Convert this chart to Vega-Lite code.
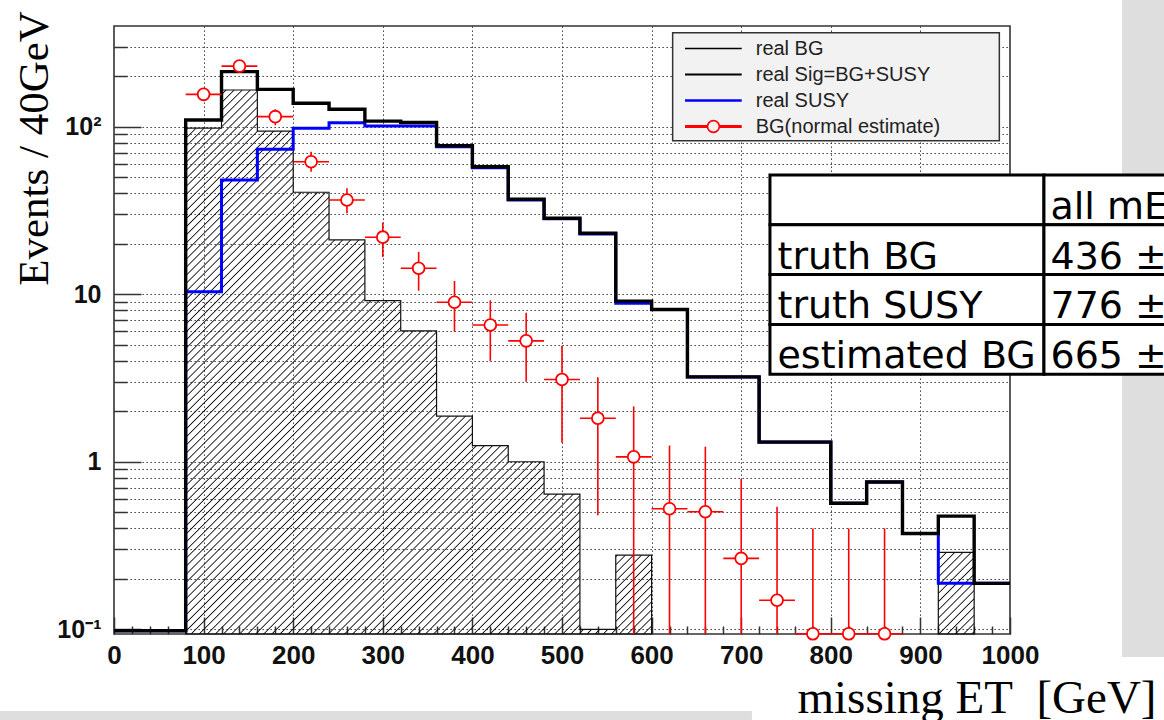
{
  "$schema": "https://vega.github.io/schema/vega-lite/v6.json",
  "width": 896,
  "height": 608,
  "autosize": {"type": "none"},
  "padding": {"left": 114, "top": 26, "right": 154, "bottom": 86},
  "background": "#ffffff",
  "config": {
    "view": {"stroke": "#333333", "strokeWidth": 1.6},
    "font": "Liberation Sans"
  },
  "datasets": {
    "bins": [
      {"lo": 0, "hi": 40, "mid": 20, "total": 0.098, "susy": 0.098, "bg": 0.09375, "est": null, "elo": null, "ehi": null},
      {"lo": 40, "hi": 80, "mid": 60, "total": 0.098, "susy": 0.098, "bg": 0.09375, "est": null, "elo": null, "ehi": null},
      {"lo": 80, "hi": 120, "mid": 100, "total": 109.6, "susy": 10.35, "bg": 98, "est": 156, "elo": 144, "ehi": 168},
      {"lo": 120, "hi": 160, "mid": 140, "total": 213, "susy": 48.1, "bg": 165.6, "est": 230, "elo": 217, "ehi": 244},
      {"lo": 160, "hi": 200, "mid": 180, "total": 167, "susy": 73.3, "bg": 94.2, "est": 114.8, "elo": 102, "ehi": 127},
      {"lo": 200, "hi": 240, "mid": 220, "total": 138, "susy": 97.8, "bg": 40.6, "est": 61.8, "elo": 53.9, "ehi": 70.9},
      {"lo": 240, "hi": 280, "mid": 260, "total": 127, "susy": 105.7, "bg": 21.1, "est": 36.5, "elo": 30.4, "ehi": 42.9},
      {"lo": 280, "hi": 320, "mid": 300, "total": 108, "susy": 100.9, "bg": 9.15, "est": 21.9, "elo": 16.7, "ehi": 26.8},
      {"lo": 320, "hi": 360, "mid": 340, "total": 106, "susy": 101, "bg": 6.05, "est": 14.3, "elo": 10.5, "ehi": 17.9},
      {"lo": 360, "hi": 400, "mid": 380, "total": 77, "susy": 76, "bg": 1.87, "est": 8.95, "elo": 5.97, "ehi": 12.0},
      {"lo": 400, "hi": 440, "mid": 420, "total": 57.7, "susy": 56.9, "bg": 1.25, "est": 6.55, "elo": 4.0, "ehi": 9.2},
      {"lo": 440, "hi": 480, "mid": 460, "total": 36.9, "susy": 36.5, "bg": 1.0, "est": 5.27, "elo": 3.0, "ehi": 7.75},
      {"lo": 480, "hi": 520, "mid": 500, "total": 28.4, "susy": 28.2, "bg": 0.641, "est": 3.1, "elo": 1.3, "ehi": 4.93},
      {"lo": 520, "hi": 560, "mid": 540, "total": 23.1, "susy": 22.9, "bg": 0.1, "est": 1.82, "elo": 0.48, "ehi": 3.19},
      {"lo": 560, "hi": 600, "mid": 580, "total": 9.1, "susy": 8.82, "bg": 0.277, "est": 1.07, "elo": 0.09375, "ehi": 2.14},
      {"lo": 600, "hi": 640, "mid": 620, "total": 8.1, "susy": 8.1, "bg": 0.09375, "est": 0.524, "elo": 0.09375, "ehi": 1.25},
      {"lo": 640, "hi": 680, "mid": 660, "total": 3.21, "susy": 3.21, "bg": 0.09375, "est": 0.503, "elo": 0.09375, "ehi": 1.23},
      {"lo": 680, "hi": 720, "mid": 700, "total": 3.21, "susy": 3.21, "bg": 0.09375, "est": 0.265, "elo": 0.09375, "ehi": 0.79},
      {"lo": 720, "hi": 760, "mid": 740, "total": 1.31, "susy": 1.31, "bg": 0.09375, "est": 0.149, "elo": 0.09375, "ehi": 0.539},
      {"lo": 760, "hi": 800, "mid": 780, "total": 1.31, "susy": 1.31, "bg": 0.09375, "est": 0.094, "elo": 0.094, "ehi": 0.40},
      {"lo": 800, "hi": 840, "mid": 820, "total": 0.565, "susy": 0.565, "bg": 0.09375, "est": 0.094, "elo": 0.094, "ehi": 0.40},
      {"lo": 840, "hi": 880, "mid": 860, "total": 0.757, "susy": 0.757, "bg": 0.09375, "est": 0.094, "elo": 0.094, "ehi": 0.40},
      {"lo": 880, "hi": 920, "mid": 900, "total": 0.373, "susy": 0.373, "bg": 0.09375, "est": null, "elo": null, "ehi": null},
      {"lo": 920, "hi": 960, "mid": 940, "total": 0.474, "susy": 0.188, "bg": 0.288, "est": null, "elo": null, "ehi": null},
      {"lo": 960, "hi": 1000, "mid": 980, "total": 0.188, "susy": 0.188, "bg": 0.09375, "est": null, "elo": null, "ehi": null}
    ],
    "legend": [
      {"label": "real BG"},
      {"label": "real Sig=BG+SUSY"},
      {"label": "real SUSY"},
      {"label": "BG(normal estimate)"}
    ],
    "table": [
      {"row": "hdr", "name": "", "val": "all mE"},
      {"row": "truth BG", "name": "truth BG", "val": "436 ±"},
      {"row": "truth SUSY", "name": "truth SUSY", "val": "776 ±"},
      {"row": "estimated BG", "name": "estimated BG", "val": "665 ±"}
    ]
  },
  "layer": [
    {
      "data": {"name": "bins"},
      "layer": [
        {
          "data": {"values": [{}]},
          "mark": {"type": "rect", "fill": "#dedede"},
          "encoding": {
            "x": {"datum": 1125, "type": "quantitative"},
            "x2": {"datum": 1400},
            "y": {"datum": 100000, "type": "quantitative"},
            "y2": {"datum": 0.0683}
          }
        },
        {
          "data": {"values": [{}]},
          "mark": {"type": "rect", "fill": "#dedede"},
          "encoding": {
            "x": {"datum": -300, "type": "quantitative"},
            "x2": {"datum": 712},
            "y": {"datum": 0.03253, "type": "quantitative"},
            "y2": {"datum": 0.0001}
          }
        },
        {
          "transform": [
            {"filter": "datum.lo >= 80 && datum.lo < 600"},
            {"fold": ["lo", "hi"], "as": ["edge", "x"]}
          ],
          "mark": {
            "type": "area",
            "opacity": 1,
            "stroke": "#111111",
            "strokeWidth": 1.2,
            "fill": {
              "gradient": "linear", "x1": 0, "y1": 0, "x2": 0.9172, "y2": 1.071,
              "stops": [
{"offset":0,"color":"#111"},{"offset":0.0012,"color":"rgba(0,0,0,0)"},{"offset":0.0068,"color":"rgba(0,0,0,0)"},
{"offset":0.008,"color":"#111"},{"offset":0.0092,"color":"rgba(0,0,0,0)"},{"offset":0.0148,"color":"rgba(0,0,0,0)"},
{"offset":0.016,"color":"#111"},{"offset":0.0172,"color":"rgba(0,0,0,0)"},{"offset":0.0228,"color":"rgba(0,0,0,0)"},
{"offset":0.024,"color":"#111"},{"offset":0.0252,"color":"rgba(0,0,0,0)"},{"offset":0.0308,"color":"rgba(0,0,0,0)"},
{"offset":0.032,"color":"#111"},{"offset":0.0332,"color":"rgba(0,0,0,0)"},{"offset":0.0388,"color":"rgba(0,0,0,0)"},
{"offset":0.04,"color":"#111"},{"offset":0.0412,"color":"rgba(0,0,0,0)"},{"offset":0.0468,"color":"rgba(0,0,0,0)"},
{"offset":0.048,"color":"#111"},{"offset":0.0492,"color":"rgba(0,0,0,0)"},{"offset":0.0548,"color":"rgba(0,0,0,0)"},
{"offset":0.056,"color":"#111"},{"offset":0.0572,"color":"rgba(0,0,0,0)"},{"offset":0.0628,"color":"rgba(0,0,0,0)"},
{"offset":0.064,"color":"#111"},{"offset":0.0652,"color":"rgba(0,0,0,0)"},{"offset":0.0708,"color":"rgba(0,0,0,0)"},
{"offset":0.072,"color":"#111"},{"offset":0.0732,"color":"rgba(0,0,0,0)"},{"offset":0.0788,"color":"rgba(0,0,0,0)"},
{"offset":0.08,"color":"#111"},{"offset":0.0812,"color":"rgba(0,0,0,0)"},{"offset":0.0868,"color":"rgba(0,0,0,0)"},
{"offset":0.088,"color":"#111"},{"offset":0.0892,"color":"rgba(0,0,0,0)"},{"offset":0.0948,"color":"rgba(0,0,0,0)"},
{"offset":0.096,"color":"#111"},{"offset":0.0972,"color":"rgba(0,0,0,0)"},{"offset":0.1028,"color":"rgba(0,0,0,0)"},
{"offset":0.104,"color":"#111"},{"offset":0.1052,"color":"rgba(0,0,0,0)"},{"offset":0.1108,"color":"rgba(0,0,0,0)"},
{"offset":0.112,"color":"#111"},{"offset":0.1132,"color":"rgba(0,0,0,0)"},{"offset":0.1188,"color":"rgba(0,0,0,0)"},
{"offset":0.12,"color":"#111"},{"offset":0.1212,"color":"rgba(0,0,0,0)"},{"offset":0.1268,"color":"rgba(0,0,0,0)"},
{"offset":0.128,"color":"#111"},{"offset":0.1292,"color":"rgba(0,0,0,0)"},{"offset":0.1348,"color":"rgba(0,0,0,0)"},
{"offset":0.136,"color":"#111"},{"offset":0.1372,"color":"rgba(0,0,0,0)"},{"offset":0.1428,"color":"rgba(0,0,0,0)"},
{"offset":0.144,"color":"#111"},{"offset":0.1452,"color":"rgba(0,0,0,0)"},{"offset":0.1508,"color":"rgba(0,0,0,0)"},
{"offset":0.152,"color":"#111"},{"offset":0.1532,"color":"rgba(0,0,0,0)"},{"offset":0.1588,"color":"rgba(0,0,0,0)"},
{"offset":0.16,"color":"#111"},{"offset":0.1612,"color":"rgba(0,0,0,0)"},{"offset":0.1668,"color":"rgba(0,0,0,0)"},
{"offset":0.168,"color":"#111"},{"offset":0.1692,"color":"rgba(0,0,0,0)"},{"offset":0.1748,"color":"rgba(0,0,0,0)"},
{"offset":0.176,"color":"#111"},{"offset":0.1772,"color":"rgba(0,0,0,0)"},{"offset":0.1828,"color":"rgba(0,0,0,0)"},
{"offset":0.184,"color":"#111"},{"offset":0.1852,"color":"rgba(0,0,0,0)"},{"offset":0.1908,"color":"rgba(0,0,0,0)"},
{"offset":0.192,"color":"#111"},{"offset":0.1932,"color":"rgba(0,0,0,0)"},{"offset":0.1988,"color":"rgba(0,0,0,0)"},
{"offset":0.2,"color":"#111"},{"offset":0.2012,"color":"rgba(0,0,0,0)"},{"offset":0.2068,"color":"rgba(0,0,0,0)"},
{"offset":0.208,"color":"#111"},{"offset":0.2092,"color":"rgba(0,0,0,0)"},{"offset":0.2148,"color":"rgba(0,0,0,0)"},
{"offset":0.216,"color":"#111"},{"offset":0.2172,"color":"rgba(0,0,0,0)"},{"offset":0.2228,"color":"rgba(0,0,0,0)"},
{"offset":0.224,"color":"#111"},{"offset":0.2252,"color":"rgba(0,0,0,0)"},{"offset":0.2308,"color":"rgba(0,0,0,0)"},
{"offset":0.232,"color":"#111"},{"offset":0.2332,"color":"rgba(0,0,0,0)"},{"offset":0.2388,"color":"rgba(0,0,0,0)"},
{"offset":0.24,"color":"#111"},{"offset":0.2412,"color":"rgba(0,0,0,0)"},{"offset":0.2468,"color":"rgba(0,0,0,0)"},
{"offset":0.248,"color":"#111"},{"offset":0.2492,"color":"rgba(0,0,0,0)"},{"offset":0.2548,"color":"rgba(0,0,0,0)"},
{"offset":0.256,"color":"#111"},{"offset":0.2572,"color":"rgba(0,0,0,0)"},{"offset":0.2628,"color":"rgba(0,0,0,0)"},
{"offset":0.264,"color":"#111"},{"offset":0.2652,"color":"rgba(0,0,0,0)"},{"offset":0.2708,"color":"rgba(0,0,0,0)"},
{"offset":0.272,"color":"#111"},{"offset":0.2732,"color":"rgba(0,0,0,0)"},{"offset":0.2788,"color":"rgba(0,0,0,0)"},
{"offset":0.28,"color":"#111"},{"offset":0.2812,"color":"rgba(0,0,0,0)"},{"offset":0.2868,"color":"rgba(0,0,0,0)"},
{"offset":0.288,"color":"#111"},{"offset":0.2892,"color":"rgba(0,0,0,0)"},{"offset":0.2948,"color":"rgba(0,0,0,0)"},
{"offset":0.296,"color":"#111"},{"offset":0.2972,"color":"rgba(0,0,0,0)"},{"offset":0.3028,"color":"rgba(0,0,0,0)"},
{"offset":0.304,"color":"#111"},{"offset":0.3052,"color":"rgba(0,0,0,0)"},{"offset":0.3108,"color":"rgba(0,0,0,0)"},
{"offset":0.312,"color":"#111"},{"offset":0.3132,"color":"rgba(0,0,0,0)"},{"offset":0.3188,"color":"rgba(0,0,0,0)"},
{"offset":0.32,"color":"#111"},{"offset":0.3212,"color":"rgba(0,0,0,0)"},{"offset":0.3268,"color":"rgba(0,0,0,0)"},
{"offset":0.328,"color":"#111"},{"offset":0.3292,"color":"rgba(0,0,0,0)"},{"offset":0.3348,"color":"rgba(0,0,0,0)"},
{"offset":0.336,"color":"#111"},{"offset":0.3372,"color":"rgba(0,0,0,0)"},{"offset":0.3428,"color":"rgba(0,0,0,0)"},
{"offset":0.344,"color":"#111"},{"offset":0.3452,"color":"rgba(0,0,0,0)"},{"offset":0.3508,"color":"rgba(0,0,0,0)"},
{"offset":0.352,"color":"#111"},{"offset":0.3532,"color":"rgba(0,0,0,0)"},{"offset":0.3588,"color":"rgba(0,0,0,0)"},
{"offset":0.36,"color":"#111"},{"offset":0.3612,"color":"rgba(0,0,0,0)"},{"offset":0.3668,"color":"rgba(0,0,0,0)"},
{"offset":0.368,"color":"#111"},{"offset":0.3692,"color":"rgba(0,0,0,0)"},{"offset":0.3748,"color":"rgba(0,0,0,0)"},
{"offset":0.376,"color":"#111"},{"offset":0.3772,"color":"rgba(0,0,0,0)"},{"offset":0.3828,"color":"rgba(0,0,0,0)"},
{"offset":0.384,"color":"#111"},{"offset":0.3852,"color":"rgba(0,0,0,0)"},{"offset":0.3908,"color":"rgba(0,0,0,0)"},
{"offset":0.392,"color":"#111"},{"offset":0.3932,"color":"rgba(0,0,0,0)"},{"offset":0.3988,"color":"rgba(0,0,0,0)"},
{"offset":0.4,"color":"#111"},{"offset":0.4012,"color":"rgba(0,0,0,0)"},{"offset":0.4068,"color":"rgba(0,0,0,0)"},
{"offset":0.408,"color":"#111"},{"offset":0.4092,"color":"rgba(0,0,0,0)"},{"offset":0.4148,"color":"rgba(0,0,0,0)"},
{"offset":0.416,"color":"#111"},{"offset":0.4172,"color":"rgba(0,0,0,0)"},{"offset":0.4228,"color":"rgba(0,0,0,0)"},
{"offset":0.424,"color":"#111"},{"offset":0.4252,"color":"rgba(0,0,0,0)"},{"offset":0.4308,"color":"rgba(0,0,0,0)"},
{"offset":0.432,"color":"#111"},{"offset":0.4332,"color":"rgba(0,0,0,0)"},{"offset":0.4388,"color":"rgba(0,0,0,0)"},
{"offset":0.44,"color":"#111"},{"offset":0.4412,"color":"rgba(0,0,0,0)"},{"offset":0.4468,"color":"rgba(0,0,0,0)"},
{"offset":0.448,"color":"#111"},{"offset":0.4492,"color":"rgba(0,0,0,0)"},{"offset":0.4548,"color":"rgba(0,0,0,0)"},
{"offset":0.456,"color":"#111"},{"offset":0.4572,"color":"rgba(0,0,0,0)"},{"offset":0.4628,"color":"rgba(0,0,0,0)"},
{"offset":0.464,"color":"#111"},{"offset":0.4652,"color":"rgba(0,0,0,0)"},{"offset":0.4708,"color":"rgba(0,0,0,0)"},
{"offset":0.472,"color":"#111"},{"offset":0.4732,"color":"rgba(0,0,0,0)"},{"offset":0.4788,"color":"rgba(0,0,0,0)"},
{"offset":0.48,"color":"#111"},{"offset":0.4812,"color":"rgba(0,0,0,0)"},{"offset":0.4868,"color":"rgba(0,0,0,0)"},
{"offset":0.488,"color":"#111"},{"offset":0.4892,"color":"rgba(0,0,0,0)"},{"offset":0.4948,"color":"rgba(0,0,0,0)"},
{"offset":0.496,"color":"#111"},{"offset":0.4972,"color":"rgba(0,0,0,0)"},{"offset":0.5028,"color":"rgba(0,0,0,0)"},
{"offset":0.504,"color":"#111"},{"offset":0.5052,"color":"rgba(0,0,0,0)"},{"offset":0.5108,"color":"rgba(0,0,0,0)"},
{"offset":0.512,"color":"#111"},{"offset":0.5132,"color":"rgba(0,0,0,0)"},{"offset":0.5188,"color":"rgba(0,0,0,0)"},
{"offset":0.52,"color":"#111"},{"offset":0.5212,"color":"rgba(0,0,0,0)"},{"offset":0.5268,"color":"rgba(0,0,0,0)"},
{"offset":0.528,"color":"#111"},{"offset":0.5292,"color":"rgba(0,0,0,0)"},{"offset":0.5348,"color":"rgba(0,0,0,0)"},
{"offset":0.536,"color":"#111"},{"offset":0.5372,"color":"rgba(0,0,0,0)"},{"offset":0.5428,"color":"rgba(0,0,0,0)"},
{"offset":0.544,"color":"#111"},{"offset":0.5452,"color":"rgba(0,0,0,0)"},{"offset":0.5508,"color":"rgba(0,0,0,0)"},
{"offset":0.552,"color":"#111"},{"offset":0.5532,"color":"rgba(0,0,0,0)"},{"offset":0.5588,"color":"rgba(0,0,0,0)"},
{"offset":0.56,"color":"#111"},{"offset":0.5612,"color":"rgba(0,0,0,0)"},{"offset":0.5668,"color":"rgba(0,0,0,0)"},
{"offset":0.568,"color":"#111"},{"offset":0.5692,"color":"rgba(0,0,0,0)"},{"offset":0.5748,"color":"rgba(0,0,0,0)"},
{"offset":0.576,"color":"#111"},{"offset":0.5772,"color":"rgba(0,0,0,0)"},{"offset":0.5828,"color":"rgba(0,0,0,0)"},
{"offset":0.584,"color":"#111"},{"offset":0.5852,"color":"rgba(0,0,0,0)"},{"offset":0.5908,"color":"rgba(0,0,0,0)"},
{"offset":0.592,"color":"#111"},{"offset":0.5932,"color":"rgba(0,0,0,0)"},{"offset":0.5988,"color":"rgba(0,0,0,0)"},
{"offset":0.6,"color":"#111"},{"offset":0.6012,"color":"rgba(0,0,0,0)"},{"offset":0.6068,"color":"rgba(0,0,0,0)"},
{"offset":0.608,"color":"#111"},{"offset":0.6092,"color":"rgba(0,0,0,0)"},{"offset":0.6148,"color":"rgba(0,0,0,0)"},
{"offset":0.616,"color":"#111"},{"offset":0.6172,"color":"rgba(0,0,0,0)"},{"offset":0.6228,"color":"rgba(0,0,0,0)"},
{"offset":0.624,"color":"#111"},{"offset":0.6252,"color":"rgba(0,0,0,0)"},{"offset":0.6308,"color":"rgba(0,0,0,0)"},
{"offset":0.632,"color":"#111"},{"offset":0.6332,"color":"rgba(0,0,0,0)"},{"offset":0.6388,"color":"rgba(0,0,0,0)"},
{"offset":0.64,"color":"#111"},{"offset":0.6412,"color":"rgba(0,0,0,0)"},{"offset":0.6468,"color":"rgba(0,0,0,0)"},
{"offset":0.648,"color":"#111"},{"offset":0.6492,"color":"rgba(0,0,0,0)"},{"offset":0.6548,"color":"rgba(0,0,0,0)"},
{"offset":0.656,"color":"#111"},{"offset":0.6572,"color":"rgba(0,0,0,0)"},{"offset":0.6628,"color":"rgba(0,0,0,0)"},
{"offset":0.664,"color":"#111"},{"offset":0.6652,"color":"rgba(0,0,0,0)"},{"offset":0.6708,"color":"rgba(0,0,0,0)"},
{"offset":0.672,"color":"#111"},{"offset":0.6732,"color":"rgba(0,0,0,0)"},{"offset":0.6788,"color":"rgba(0,0,0,0)"},
{"offset":0.68,"color":"#111"},{"offset":0.6812,"color":"rgba(0,0,0,0)"},{"offset":0.6868,"color":"rgba(0,0,0,0)"},
{"offset":0.688,"color":"#111"},{"offset":0.6892,"color":"rgba(0,0,0,0)"},{"offset":0.6948,"color":"rgba(0,0,0,0)"},
{"offset":0.696,"color":"#111"},{"offset":0.6972,"color":"rgba(0,0,0,0)"},{"offset":0.7028,"color":"rgba(0,0,0,0)"},
{"offset":0.704,"color":"#111"},{"offset":0.7052,"color":"rgba(0,0,0,0)"},{"offset":0.7108,"color":"rgba(0,0,0,0)"},
{"offset":0.712,"color":"#111"},{"offset":0.7132,"color":"rgba(0,0,0,0)"},{"offset":0.7188,"color":"rgba(0,0,0,0)"},
{"offset":0.72,"color":"#111"},{"offset":0.7212,"color":"rgba(0,0,0,0)"},{"offset":0.7268,"color":"rgba(0,0,0,0)"},
{"offset":0.728,"color":"#111"},{"offset":0.7292,"color":"rgba(0,0,0,0)"},{"offset":0.7348,"color":"rgba(0,0,0,0)"},
{"offset":0.736,"color":"#111"},{"offset":0.7372,"color":"rgba(0,0,0,0)"},{"offset":0.7428,"color":"rgba(0,0,0,0)"},
{"offset":0.744,"color":"#111"},{"offset":0.7452,"color":"rgba(0,0,0,0)"},{"offset":0.7508,"color":"rgba(0,0,0,0)"},
{"offset":0.752,"color":"#111"},{"offset":0.7532,"color":"rgba(0,0,0,0)"},{"offset":0.7588,"color":"rgba(0,0,0,0)"},
{"offset":0.76,"color":"#111"},{"offset":0.7612,"color":"rgba(0,0,0,0)"},{"offset":0.7668,"color":"rgba(0,0,0,0)"},
{"offset":0.768,"color":"#111"},{"offset":0.7692,"color":"rgba(0,0,0,0)"},{"offset":0.7748,"color":"rgba(0,0,0,0)"},
{"offset":0.776,"color":"#111"},{"offset":0.7772,"color":"rgba(0,0,0,0)"},{"offset":0.7828,"color":"rgba(0,0,0,0)"},
{"offset":0.784,"color":"#111"},{"offset":0.7852,"color":"rgba(0,0,0,0)"},{"offset":0.7908,"color":"rgba(0,0,0,0)"},
{"offset":0.792,"color":"#111"},{"offset":0.7932,"color":"rgba(0,0,0,0)"},{"offset":0.7988,"color":"rgba(0,0,0,0)"},
{"offset":0.8,"color":"#111"},{"offset":0.8012,"color":"rgba(0,0,0,0)"},{"offset":0.8068,"color":"rgba(0,0,0,0)"},
{"offset":0.808,"color":"#111"},{"offset":0.8092,"color":"rgba(0,0,0,0)"},{"offset":0.8148,"color":"rgba(0,0,0,0)"},
{"offset":0.816,"color":"#111"},{"offset":0.8172,"color":"rgba(0,0,0,0)"},{"offset":0.8228,"color":"rgba(0,0,0,0)"},
{"offset":0.824,"color":"#111"},{"offset":0.8252,"color":"rgba(0,0,0,0)"},{"offset":0.8308,"color":"rgba(0,0,0,0)"},
{"offset":0.832,"color":"#111"},{"offset":0.8332,"color":"rgba(0,0,0,0)"},{"offset":0.8388,"color":"rgba(0,0,0,0)"},
{"offset":0.84,"color":"#111"},{"offset":0.8412,"color":"rgba(0,0,0,0)"},{"offset":0.8468,"color":"rgba(0,0,0,0)"},
{"offset":0.848,"color":"#111"},{"offset":0.8492,"color":"rgba(0,0,0,0)"},{"offset":0.8548,"color":"rgba(0,0,0,0)"},
{"offset":0.856,"color":"#111"},{"offset":0.8572,"color":"rgba(0,0,0,0)"},{"offset":0.8628,"color":"rgba(0,0,0,0)"},
{"offset":0.864,"color":"#111"},{"offset":0.8652,"color":"rgba(0,0,0,0)"},{"offset":0.8708,"color":"rgba(0,0,0,0)"},
{"offset":0.872,"color":"#111"},{"offset":0.8732,"color":"rgba(0,0,0,0)"},{"offset":0.8788,"color":"rgba(0,0,0,0)"},
{"offset":0.88,"color":"#111"},{"offset":0.8812,"color":"rgba(0,0,0,0)"},{"offset":0.8868,"color":"rgba(0,0,0,0)"},
{"offset":0.888,"color":"#111"},{"offset":0.8892,"color":"rgba(0,0,0,0)"},{"offset":0.8948,"color":"rgba(0,0,0,0)"},
{"offset":0.896,"color":"#111"},{"offset":0.8972,"color":"rgba(0,0,0,0)"},{"offset":0.9028,"color":"rgba(0,0,0,0)"},
{"offset":0.904,"color":"#111"},{"offset":0.9052,"color":"rgba(0,0,0,0)"},{"offset":0.9108,"color":"rgba(0,0,0,0)"},
{"offset":0.912,"color":"#111"},{"offset":0.9132,"color":"rgba(0,0,0,0)"},{"offset":0.9188,"color":"rgba(0,0,0,0)"},
{"offset":0.92,"color":"#111"},{"offset":0.9212,"color":"rgba(0,0,0,0)"},{"offset":0.9268,"color":"rgba(0,0,0,0)"},
{"offset":0.928,"color":"#111"},{"offset":0.9292,"color":"rgba(0,0,0,0)"},{"offset":0.9348,"color":"rgba(0,0,0,0)"},
{"offset":0.936,"color":"#111"},{"offset":0.9372,"color":"rgba(0,0,0,0)"},{"offset":0.9428,"color":"rgba(0,0,0,0)"},
{"offset":0.944,"color":"#111"},{"offset":0.9452,"color":"rgba(0,0,0,0)"},{"offset":0.9508,"color":"rgba(0,0,0,0)"},
{"offset":0.952,"color":"#111"},{"offset":0.9532,"color":"rgba(0,0,0,0)"},{"offset":0.9588,"color":"rgba(0,0,0,0)"},
{"offset":0.96,"color":"#111"},{"offset":0.9612,"color":"rgba(0,0,0,0)"},{"offset":0.9668,"color":"rgba(0,0,0,0)"},
{"offset":0.968,"color":"#111"},{"offset":0.9692,"color":"rgba(0,0,0,0)"},{"offset":0.9748,"color":"rgba(0,0,0,0)"},
{"offset":0.976,"color":"#111"},{"offset":0.9772,"color":"rgba(0,0,0,0)"},{"offset":0.9828,"color":"rgba(0,0,0,0)"},
{"offset":0.984,"color":"#111"},{"offset":0.9852,"color":"rgba(0,0,0,0)"},{"offset":0.9908,"color":"rgba(0,0,0,0)"},
{"offset":0.992,"color":"#111"},{"offset":0.9932,"color":"rgba(0,0,0,0)"},{"offset":0.9988,"color":"rgba(0,0,0,0)"},
{"offset":1,"color":"#111"}
              ]
            }
          },
          "encoding": {
            "x": {"field": "x", "type": "quantitative"},
            "y": {"field": "bg", "type": "quantitative", "stack": null},
            "y2": {"datum": 0.09375},
            "order": {"value": null}
          }
        },
        {
          "transform": [
            {"filter": "datum.lo === 920"},
            {"fold": ["lo", "hi"], "as": ["edge", "x"]}
          ],
          "mark": {
            "type": "area",
            "opacity": 1,
            "stroke": "#111111",
            "strokeWidth": 1.2,
            "fill": {
              "gradient": "linear", "x1": 0, "y1": 0, "x2": 0.5293, "y2": 1.2065,
              "stops": [
{"offset":0,"color":"#111"},{"offset":0.0105,"color":"rgba(0,0,0,0)"},{"offset":0.0595,"color":"rgba(0,0,0,0)"},
{"offset":0.07,"color":"#111"},{"offset":0.0805,"color":"rgba(0,0,0,0)"},{"offset":0.1295,"color":"rgba(0,0,0,0)"},
{"offset":0.14,"color":"#111"},{"offset":0.1505,"color":"rgba(0,0,0,0)"},{"offset":0.1995,"color":"rgba(0,0,0,0)"},
{"offset":0.21,"color":"#111"},{"offset":0.2205,"color":"rgba(0,0,0,0)"},{"offset":0.2695,"color":"rgba(0,0,0,0)"},
{"offset":0.28,"color":"#111"},{"offset":0.2905,"color":"rgba(0,0,0,0)"},{"offset":0.3395,"color":"rgba(0,0,0,0)"},
{"offset":0.35,"color":"#111"},{"offset":0.3605,"color":"rgba(0,0,0,0)"},{"offset":0.4095,"color":"rgba(0,0,0,0)"},
{"offset":0.42,"color":"#111"},{"offset":0.4305,"color":"rgba(0,0,0,0)"},{"offset":0.4795,"color":"rgba(0,0,0,0)"},
{"offset":0.49,"color":"#111"},{"offset":0.5005,"color":"rgba(0,0,0,0)"},{"offset":0.5495,"color":"rgba(0,0,0,0)"},
{"offset":0.56,"color":"#111"},{"offset":0.5705,"color":"rgba(0,0,0,0)"},{"offset":0.6195,"color":"rgba(0,0,0,0)"},
{"offset":0.63,"color":"#111"},{"offset":0.6405,"color":"rgba(0,0,0,0)"},{"offset":0.6895,"color":"rgba(0,0,0,0)"},
{"offset":0.7,"color":"#111"},{"offset":0.7105,"color":"rgba(0,0,0,0)"},{"offset":0.7595,"color":"rgba(0,0,0,0)"},
{"offset":0.77,"color":"#111"},{"offset":0.7805,"color":"rgba(0,0,0,0)"},{"offset":0.8295,"color":"rgba(0,0,0,0)"},
{"offset":0.84,"color":"#111"},{"offset":0.8505,"color":"rgba(0,0,0,0)"},{"offset":0.8995,"color":"rgba(0,0,0,0)"},
{"offset":0.91,"color":"#111"},{"offset":0.9205,"color":"rgba(0,0,0,0)"},{"offset":0.9695,"color":"rgba(0,0,0,0)"},
{"offset":0.98,"color":"#111"},{"offset":0.9905,"color":"rgba(0,0,0,0)"}
              ]
            }
          },
          "encoding": {
            "x": {"field": "x", "type": "quantitative"},
            "y": {"field": "bg", "type": "quantitative", "stack": null},
            "y2": {"datum": 0.09375},
            "order": {"value": null}
          }
        },
        {
          "transform": [{"fold": ["lo", "hi"], "as": ["edge", "x"]}],
          "mark": {"type": "line", "color": "#0000ff", "strokeWidth": 3, "strokeJoin": "miter"},
          "encoding": {
            "x": {"field": "x", "type": "quantitative"},
            "y": {"field": "susy", "type": "quantitative"},
            "order": {"value": null}
          }
        },
        {
          "transform": [{"fold": ["lo", "hi"], "as": ["edge", "x"]}],
          "mark": {"type": "line", "color": "#000000", "strokeWidth": 3.4, "strokeJoin": "miter"},
          "encoding": {
            "x": {
              "field": "x", "type": "quantitative",
              "scale": {"domain": [0, 1000], "nice": false, "zero": false},
              "axis": {
                "title": "missing ET\u00a0\u00a0[GeV]",
                "values": [0,20,40,60,80,100,120,140,160,180,200,220,240,260,280,300,320,340,360,380,400,420,440,460,480,500,520,540,560,580,600,620,640,660,680,700,720,740,760,780,800,820,840,860,880,900,920,940,960,980,1000],
                "tickCount": 1000,
                "format": "d",
                "grid": true,
                "gridDash": [1.3, 2.7],
                "gridColor": "#222222",
                "gridWidth": 1,
                "gridOpacity": {"condition": {"test": "datum.value % 100 === 0 && datum.value > 0 && datum.value < 1000", "value": 1}, "value": 0},
                "domain": false,
                "tickColor": "#333333",
                "tickWidth": 1.5,
                "tickSize": {"condition": {"test": "datum.value % 100 === 0", "value": -17}, "value": -8},
                "labelExpr": "datum.value % 100 === 0 ? datum.label : ''",
                "labelFont": "Liberation Sans",
                "labelFontWeight": "bold",
                "labelFontSize": 26,
                "labelColor": "#111111",
                "labelBaseline": "alphabetic",
                "labelPadding": 46,
                "labelOverlap": false,
                "labelFlush": false,
                "labelBound": false,
                "titleFont": "Liberation Serif",
                "titleFontSize": 47,
                "titleFontWeight": "normal",
                "titleColor": "#000000",
                "titleX": 683,
                "titleY": 78,
                "titleAlign": "left",
                "titleBaseline": "alphabetic"
              }
            },
            "y": {
              "field": "total", "type": "quantitative",
              "scale": {"type": "log", "domain": [0.09375, 399], "nice": false},
              "axis": {
                "title": "Events / 40GeV",
                "values": [0.1,0.2,0.3,0.4,0.5,0.6,0.7,0.8,0.9,1,2,3,4,5,6,7,8,9,10,20,30,40,50,60,70,80,90,100,200,300],
                "tickCount": 1000,
                "grid": true,
                "gridDash": [1.3, 2.7],
                "gridColor": "#222222",
                "gridWidth": 1,
                "domain": false,
                "tickColor": "#333333",
                "tickWidth": 1.5,
                "tickSize": {"condition": {"test": "indexof([0.1, 1, 10, 100], datum.value) >= 0", "value": -27}, "value": -13},
                "labelExpr": "datum.value === 100 ? '10²' : datum.value === 10 ? '10' : datum.value === 1 ? '1' : datum.value === 0.1 ? '10⁻¹' : ''",
                "labelFont": "Liberation Sans",
                "labelFontWeight": "bold",
                "labelFontSize": 25,
                "labelColor": "#111111",
                "labelBaseline": "middle",
                "labelPadding": 40,
                "labelOverlap": false,
                "labelFlush": false,
                "labelBound": false,
                "titleFont": "Liberation Serif",
                "titleFontSize": 43,
                "titleFontWeight": "normal",
                "titleColor": "#000000",
                "titleX": -67,
                "titleY": 122,
                "titleAngle": 270,
                "titleAlign": "center",
                "titleBaseline": "alphabetic"
              }
            },
            "order": {"value": null}
          }
        },
        {
          "transform": [{"filter": "isValid(datum.est)"}],
          "mark": {"type": "rule", "color": "#ff0000", "strokeWidth": 1.6},
          "encoding": {
            "x": {"field": "lo", "type": "quantitative"},
            "x2": {"field": "hi"},
            "y": {"field": "est", "type": "quantitative"}
          }
        },
        {
          "transform": [{"filter": "isValid(datum.est)"}],
          "mark": {"type": "rule", "color": "#ff0000", "strokeWidth": 1.6},
          "encoding": {
            "x": {"field": "mid", "type": "quantitative"},
            "y": {"field": "elo", "type": "quantitative"},
            "y2": {"field": "ehi"}
          }
        },
        {
          "transform": [{"filter": "isValid(datum.est)"}],
          "mark": {"type": "point", "shape": "circle", "size": 140, "filled": true, "fill": "#ffffff", "stroke": "#ff0000", "strokeWidth": 1.8, "opacity": 1},
          "encoding": {
            "x": {"field": "mid", "type": "quantitative"},
            "y": {"field": "est", "type": "quantitative"}
          }
        },
        {
          "data": {"values": [{}]},
          "mark": {"type": "rect", "fill": "#f2f2f2", "stroke": "#333333", "strokeWidth": 1.5},
          "encoding": {
            "x": {"datum": 623.5, "type": "quantitative"},
            "x2": {"datum": 988.1},
            "y": {"datum": 364, "type": "quantitative"},
            "y2": {"datum": 82.5}
          }
        }
      ]
    },
    {
      "data": {"name": "legend"},
      "encoding": {
        "y": {
          "field": "label", "type": "ordinal",
          "scale": {"type": "point", "domain": ["real BG", "real Sig=BG+SUSY", "real SUSY", "BG(normal estimate)"], "range": [22.5, 100.5], "padding": 0},
          "axis": null
        }
      },
      "layer": [
        {
          "mark": {"type": "rule"},
          "encoding": {
            "x": {"datum": 637.3, "type": "quantitative"},
            "x2": {"datum": 700.6},
            "color": {"field": "label", "type": "nominal", "scale": {"domain": ["real BG", "real Sig=BG+SUSY", "real SUSY", "BG(normal estimate)"], "range": ["#000000", "#000000", "#0000ff", "#ff0000"]}, "legend": null},
            "strokeWidth": {"field": "label", "type": "ordinal", "scale": {"domain": ["real BG", "real Sig=BG+SUSY", "real SUSY", "BG(normal estimate)"], "range": [1.3, 3.2, 3, 1.6]}, "legend": null}
          }
        },
        {
          "transform": [{"filter": "datum.label === 'BG(normal estimate)'"}],
          "mark": {"type": "point", "shape": "circle", "size": 140, "filled": true, "fill": "#f2f2f2", "stroke": "#ff0000", "strokeWidth": 1.6, "opacity": 1},
          "encoding": {"x": {"datum": 669, "type": "quantitative"}}
        },
        {
          "mark": {"type": "text", "align": "left", "baseline": "middle", "font": "Liberation Sans", "fontSize": 20, "color": "#222222"},
          "encoding": {
            "x": {"datum": 716.2, "type": "quantitative"},
            "text": {"field": "label"}
          }
        }
      ]
    },
    {
      "data": {"name": "table"},
      "encoding": {
        "y": {
          "field": "row", "type": "ordinal",
          "scale": {"type": "band", "domain": ["hdr", "truth BG", "truth SUSY", "estimated BG"], "range": [149, 348.2], "paddingInner": 0, "paddingOuter": 0},
          "axis": null
        }
      },
      "layer": [
        {
          "mark": {"type": "rect", "fill": "#ffffff", "stroke": "#000000", "strokeWidth": 3},
          "encoding": {"x": {"datum": 732.1, "type": "quantitative"}, "x2": {"datum": 1037.9}}
        },
        {
          "mark": {"type": "rect", "fill": "#ffffff", "stroke": "#000000", "strokeWidth": 3},
          "encoding": {"x": {"datum": 1037.9, "type": "quantitative"}, "x2": {"datum": 1200}}
        },
        {
          "mark": {"type": "text", "align": "left", "baseline": "alphabetic", "font": "DejaVu Sans", "fontSize": 38, "color": "#000000", "dy": -6},
          "encoding": {
            "x": {"datum": 740.5, "type": "quantitative"},
            "y": {"field": "row", "type": "ordinal", "bandPosition": 1},
            "text": {"field": "name"}
          }
        },
        {
          "mark": {"type": "text", "align": "left", "baseline": "alphabetic", "font": "DejaVu Sans", "fontSize": 38, "color": "#000000", "dy": -6},
          "encoding": {
            "x": {"datum": 1045.2, "type": "quantitative"},
            "y": {"field": "row", "type": "ordinal", "bandPosition": 1},
            "text": {"field": "val"}
          }
        }
      ]
    }
  ],
  "resolve": {"scale": {"y": "independent"}}
}
